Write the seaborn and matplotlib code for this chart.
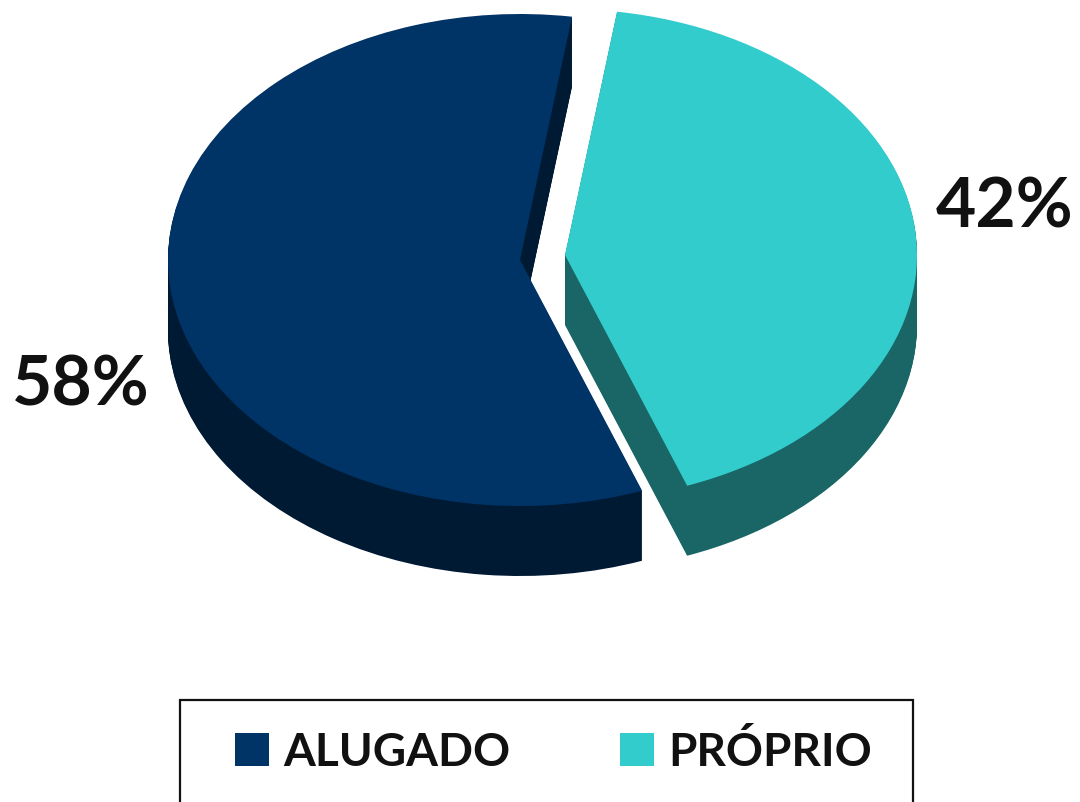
import matplotlib
matplotlib.use("Agg")
import matplotlib.pyplot as plt
import numpy as np
import seaborn as sns
from matplotlib.patches import Rectangle

# data
labels = ["ALUGADO", "PRÓPRIO"]
values = [58, 42]
pct_labels = ["58%", "42%"]

top_colors = ["#003366", "#33CCCC"]
side_colors = ["#001A33", "#1A6666"]

sns.set_theme(style="white")
plt.rcParams["font.family"] = ["Lato", "DejaVu Sans"]

W, H = 1080, 802
RX, RY = 352, 246   # ellipse radii in pixels, the pie is squashed to look 3d
DEPTH = 70
START = 81.5

# apex of each slice, in pixels from top left
apex = [(520, 260), (565, 255)]

fig = plt.figure(figsize=(W / 100, H / 100), dpi=100)
ax = fig.add_axes([0, 0, 1, 1])

total = sum(values)
starts = [START, START + values[0] / total * 360]


def draw_slice(i, color, drop=0):
    px, py = apex[i]
    center = (px / RX, (H - py - drop) / RY)
    wedges, _ = ax.pie([values[i] / total], normalize=False, colors=[color],
                       startangle=starts[i], center=center, radius=1,
                       wedgeprops={"linewidth": 0})
    return wedges[0]


# side of the pie: same slice repeated going down
for i in range(len(values)):
    for drop in np.arange(DEPTH, 0, -1):
        draw_slice(i, side_colors[i], drop)

tops = [draw_slice(i, top_colors[i]) for i in range(len(values))]

ax.set_aspect("auto")
ax.set_xlim(0, W / RX)
ax.set_ylim(0, H / RY)
ax.axis("off")

# percent labels
fig.text(81 / W, 1 - 386 / H, pct_labels[0], fontsize=50, fontweight="bold",
         color="#111111", ha="center", va="center")
fig.text(1005 / W, 1 - 208 / H, pct_labels[1], fontsize=50, fontweight="bold",
         color="#111111", ha="center", va="center")

# legend box runs off the bottom of the picture
fig.add_artist(Rectangle((180 / W, -0.05), (913 - 180) / W, 1 - 700 / H + 0.05,
                         transform=fig.transFigure, fill=False,
                         edgecolor="#111111", linewidth=1.6))
fig.legend(tops, labels, ncol=2, loc="center left", frameon=False,
           bbox_to_anchor=(235 / W, 1 - 752 / H), borderaxespad=0, borderpad=0,
           handlelength=0.74, handleheight=0.74,
           handletextpad=0.31, columnspacing=2.4, labelcolor="#111111",
           prop={"weight": "bold", "size": 33})

fig.savefig("out.png", dpi=100)
